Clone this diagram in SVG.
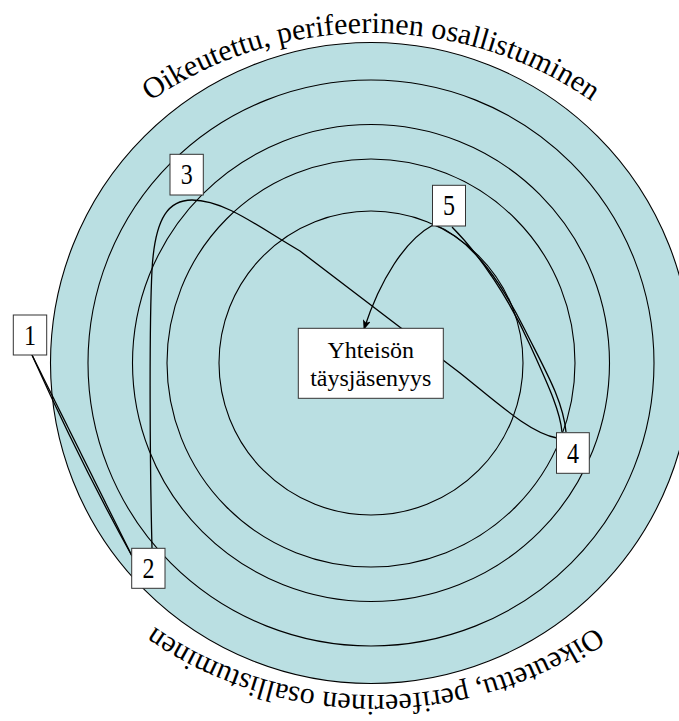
<svg xmlns="http://www.w3.org/2000/svg" xmlns:xlink="http://www.w3.org/1999/xlink" width="679" height="721" viewBox="0 0 679 721">
  <style>
    .ring { fill: #badfe2; stroke: #000; stroke-width: 1.1; }
    .box { fill: #fff; stroke: #333; stroke-width: 1; }
    .edge { fill: none; stroke: #000; stroke-width: 1.3; }
    .num { font-family: "Liberation Serif", "Times New Roman", serif; font-size: 24px; text-anchor: middle; fill: #000; }
    .lbl { font-family: "Liberation Serif", "Times New Roman", serif; font-size: 24px; text-anchor: middle; fill: #000; }
    .arc { font-family: "Liberation Serif", "Times New Roman", serif; font-size: 30px; fill: #000; }
  </style>
  <defs>
    <path id="arcPath" d="M57.5,198 A362,330 0 0 1 684.5,198"/>
    <marker id="arrow" markerUnits="userSpaceOnUse" markerWidth="10" markerHeight="8" refX="9" refY="4" orient="auto">
      <path d="M0,0 L10,4 L0,8 L2.5,4 z" fill="#000"/>
    </marker>
  </defs>

  <!-- concentric rings -->
  <g id="rings">
    <circle class="ring" cx="371" cy="363" r="320.5"/>
    <circle class="ring" cx="371" cy="363" r="283"/>
    <circle class="ring" cx="371" cy="363" r="238.5"/>
    <circle class="ring" cx="371" cy="363" r="204"/>
    <circle class="ring" cx="371" cy="363" r="152"/>
  </g>

  <!-- curved captions -->
  <g id="captions">
    <text class="arc"><textPath xlink:href="#arcPath" href="#arcPath" startOffset="50%" text-anchor="middle">Oikeutettu, perifeerinen osallistuminen</textPath></text>
    <g transform="rotate(180 373 364)">
      <text class="arc"><textPath xlink:href="#arcPath" href="#arcPath" startOffset="50%" text-anchor="middle">Oikeutettu, perifeerinen osallistuminen</textPath></text>
    </g>
  </g>

  <!-- connectors -->
  <g id="connectors">
    <path class="edge" d="M32,355 L132,556"/>
    <path class="edge" d="M32,355 Q80,462 132,556"/>
    <path class="edge" d="M152,548 C150,470 149,330 152,270 C155,215 170,200 192,200 C225,200 260,228 300,251 L460,373 C500,405 530,433 557,438"/>
    <path class="edge" d="M433,224 C475,240 505,290 525,330 C545,370 563,400 566,432"/>
    <path class="edge" d="M452,227 C480,255 510,300 530,345 C548,385 560,410 562,432"/>
    <path class="edge" d="M433,225 C405,240 380,280 364,329" marker-end="url(#arrow)"/>
  </g>

  <!-- nodes -->
  <g id="node-center">
    <rect class="box" x="298.3" y="328.3" width="145" height="70"/>
    <text class="lbl" x="370.8" y="358">Yhteisön</text>
    <text class="lbl" x="370.8" y="385.7">täysjäsenyys</text>
  </g>
  <g id="node-1">
    <rect class="box" x="13.3" y="315" width="33.4" height="40"/>
    <text class="num" transform="translate(30,344.5) scale(1,1.27)">1</text>
  </g>
  <g id="node-2">
    <rect class="box" x="131.7" y="548.3" width="33.3" height="40"/>
    <text class="num" transform="translate(148.4,578) scale(1,1.27)">2</text>
  </g>
  <g id="node-3">
    <rect class="box" x="170" y="154.3" width="33.3" height="40.7"/>
    <text class="num" transform="translate(186.7,184) scale(1,1.27)">3</text>
  </g>
  <g id="node-4">
    <rect class="box" x="556.5" y="432.7" width="32.8" height="40.6"/>
    <text class="num" transform="translate(573,462.5) scale(1,1.27)">4</text>
  </g>
  <g id="node-5">
    <rect class="box" x="432.5" y="185.3" width="33" height="40.7"/>
    <text class="num" transform="translate(449,215) scale(1,1.27)">5</text>
  </g>
</svg>
